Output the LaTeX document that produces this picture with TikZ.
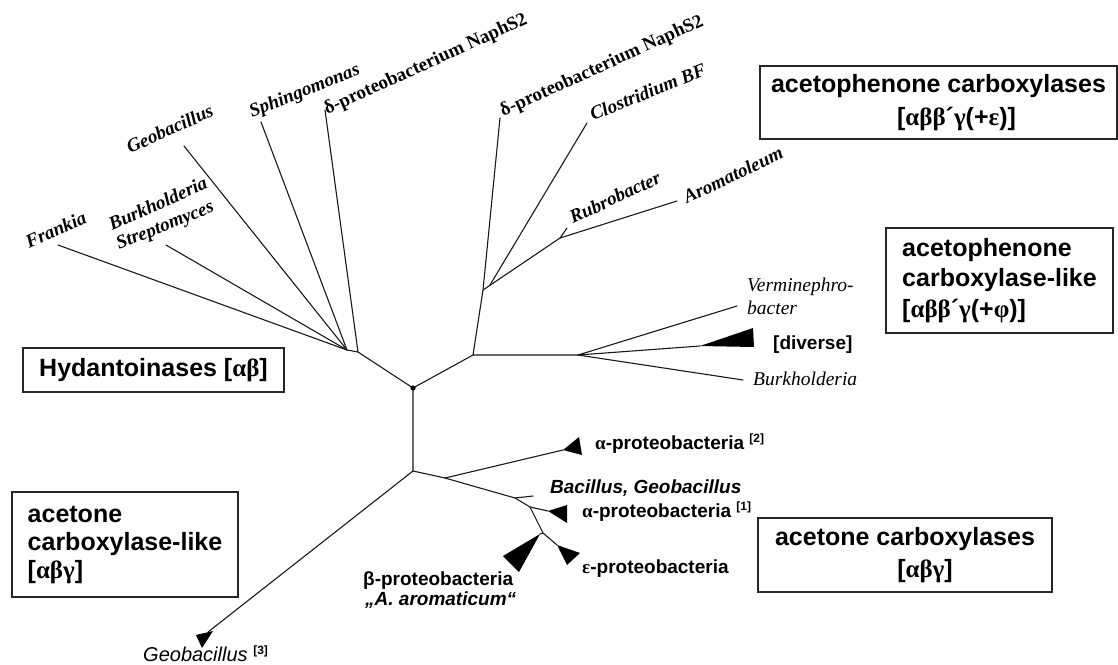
\documentclass[tikz,border=0pt]{standalone}
\usepackage{fontspec}
\setmainfont{Liberation Serif}
\setsansfont{Liberation Sans}
\newfontfamily\gkfont{Liberation Serif}
\newcommand{\gk}[1]{{\gkfont #1}}
\newcommand{\supref}[1]{\raisebox{7pt}{\fontsize{12}{12}\selectfont\bfseries\upshape #1}}
\begin{document}
\begin{tikzpicture}[x=1pt,y=-1pt,
  branch/.style={line width=1.1pt, line cap=round, line join=round, draw=black!90},
  clade/.style={fill=black},
  taxon/.style={font=\fontsize{19}{22}\selectfont\bfseries\itshape, anchor=base west, inner sep=0pt},
  taxonup/.style={font=\fontsize{19}{22}\selectfont\bfseries, anchor=base west, inner sep=0pt},
  taxonit/.style={font=\fontsize{19.5}{22}\selectfont\itshape, anchor=base west, inner sep=0pt},
  grp/.style={font=\sffamily\bfseries\fontsize{19}{22}\selectfont, anchor=base west, inner sep=0pt},
  grpit/.style={font=\sffamily\bfseries\itshape\fontsize{19}{22}\selectfont, anchor=base west, inner sep=0pt},
  fambox/.style={draw=black!85, line width=1.2pt, inner sep=0pt, text=black},
]
\useasboundingbox (0,0) rectangle (1118,664);

% ---- tree coordinates ----
\coordinate (R) at (413,388);
\coordinate (H1) at (358,352);
\coordinate (H2) at (347,350);
\coordinate (tFr) at (58,245);
\coordinate (tSt) at (166,245);
\coordinate (tGe) at (184,146);
\coordinate (tSp) at (261,122);
\coordinate (tDL) at (325,110);
\coordinate (U0) at (473,355);
\coordinate (U1) at (483,290);
\coordinate (U2) at (490,285);
\coordinate (U3) at (560,238);
\coordinate (tDR) at (500,118);
\coordinate (tCl) at (587,123);
\coordinate (tRu) at (567,228);
\coordinate (tAr) at (677,201);
\coordinate (V0) at (578,355);
\coordinate (tVe) at (737,306);
\coordinate (tDi) at (700,346);
\coordinate (tBu) at (743,380);
\coordinate (L0) at (413,471);
\coordinate (tG3) at (208,632);
\coordinate (P1) at (445,478);
\coordinate (P2) at (515,498);
\coordinate (P3) at (530,507);
\coordinate (P4) at (543,533);
\coordinate (tA2) at (563,450);
\coordinate (tBa) at (533,496);
\coordinate (tA1) at (548,511);
\coordinate (tBe) at (540,534);
\coordinate (tEp) at (557,545);

% ---- branches ----
\draw[branch] (tDL) -- (H1) -- (R) -- (U0) -- (V0);
\draw[branch] (H1) -- (H2) -- (tFr);
\draw[branch] (H2) -- (tSt);
\draw[branch] (H2) -- (tGe);
\draw[branch] (H2) -- (tSp);
\draw[branch] (U0) -- (U1) -- (tDR);
\draw[branch] (U1) -- (U3) -- (tAr);
\draw[branch] (U2) -- (tCl);
\draw[branch] (U3) -- (tRu);
\draw[branch] (V0) -- (tVe);
\draw[branch] (V0) -- (tDi);
\draw[branch] (V0) -- (tBu);
\draw[branch] (R) -- (L0) -- (tG3);
\draw[branch] (L0) -- (P1) -- (tA2);
\draw[branch] (P1) -- (P2) -- (P3) -- (P4) -- (tEp);
\draw[branch] (P2) -- (tBa);
\draw[branch] (P3) -- (tA1);
\draw[branch] (P4) -- (tBe);
\fill (R) circle (2.6pt);

% ---- collapsed clades ----
\fill[clade] (tDi) -- (753,328) -- (754,347) -- cycle;
\fill[clade] (196,635) -- (213,631) -- (202,648) -- cycle;
\fill[clade] (tA2) -- (579,437) -- (582,455) -- cycle;
\fill[clade] (tA1) -- (567,505) -- (567,523) -- cycle;
\fill[clade] (tBe) -- (503,556) -- (519,572) -- cycle;
\fill[clade] (tEp) -- (580,553) -- (567,565) -- cycle;

% ---- taxon labels ----
\node[taxon, rotate=24.5] (lFr) at (29,249) {Frankia};
\node[taxon, rotate=24] (lBk) at (112,231) {Burkholderia};
\node[taxon, rotate=22] (lSt) at (119,250) {Streptomyces};
\node[taxon, rotate=24.5] (lGe) at (130,154) {Geobacillus};
\node[taxon, rotate=22] (lSp) at (252,118) {Sphingomonas};
\node[taxonup, rotate=24.5] (lDL) at (327,115) {δ-proteobacterium NaphS2};
\node[taxonup, rotate=24.5] (lDR) at (503,117) {δ-proteobacterium NaphS2};
\node[taxon, rotate=22] (lCl) at (593,121) {Clostridium BF};
\node[taxon, rotate=25] (lRu) at (573,224) {Rubrobacter};
\node[taxon, rotate=25.5] (lAr) at (687,204) {Aromatoleum};
\node[taxonit] (lVe1) at (747,291) {Verminephro-};
\node[taxonit] (lVe2) at (747,314) {bacter};
\node[grp] (lDi) at (773,349) {[diverse]};
\node[taxonit] (lBu) at (753,385) {Burkholderia};
\node[grp] (lA2) at (595,449) {\gk{α}-proteobacteria \supref{[2]}};
\node[grpit] (lBa) at (550,493) {Bacillus, Geobacillus};
\node[grp] (lA1) at (582,517) {\gk{α}-proteobacteria \supref{[1]}};
\node[grp] (lEp) at (582,573) {\gk{ε}-proteobacteria};
\node[grp] (lBe1) at (363,585) {β-proteobacteria};
\node[grpit] (lBe2) at (365,605) {„A. aromaticum“};
\node[font=\sffamily\itshape\fontsize{20}{22}\selectfont, anchor=base west, inner sep=0pt] (lG3) at (143,661) {Geobacillus \supref{[3]}};

% ---- family boxes ----
\node[fambox, minimum width=261pt, minimum height=44pt, font=\sffamily\bfseries\fontsize{25}{30}\selectfont] (hyd) at (153.5,370) {Hydantoinases [\gk{αβ}]};
\node[fambox, minimum width=357pt, minimum height=73pt, align=center, font=\sffamily\bfseries\fontsize{25}{33}\selectfont] (apc) at (938.5,102.5) {acetophenone carboxylases\\\hspace*{36pt}[\gk{αββ}´\gk{γ}(+\gk{ε})]};
\node[fambox, minimum width=227pt, minimum height=105pt, align=left, font=\sffamily\bfseries\fontsize{25}{30.5}\selectfont] (apl) at (999.5,280.5) {acetophenone\\carboxylase-like\\{}[\gk{αββ}´\gk{γ}(+\gk{φ})]};
\node[fambox, minimum width=294pt, minimum height=74pt, align=center, font=\sffamily\bfseries\fontsize{25}{32}\selectfont] (acc) at (905,555) {acetone carboxylases\\\hspace*{40pt}[\gk{αβγ}]};
\node[fambox, minimum width=226pt, minimum height=105pt, align=left, font=\sffamily\bfseries\fontsize{25}{28}\selectfont] (acl) at (125,544.5) {acetone\\carboxylase-like\\{}[\gk{αβγ}]};
\end{tikzpicture}
\end{document}
